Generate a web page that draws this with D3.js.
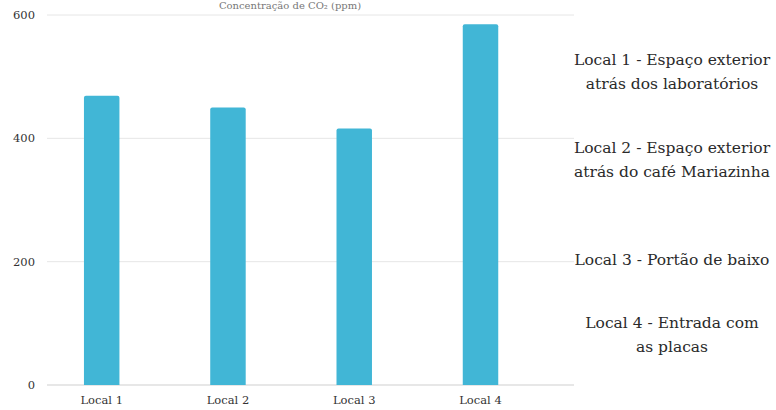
<!DOCTYPE html>
<html><head><meta charset="utf-8">
<script src="https://cdn.jsdelivr.net/npm/d3@7"></script>
<style>body{margin:0;background:#fff}svg{display:block}</style>
</head><body>
<script>
const categories = ["Local 1", "Local 2", "Local 3", "Local 4"];
const values = [469, 450, 416, 585];
const yTicks = [0, 200, 400, 600];
const title = "Concentração de CO₂ (ppm)";
const legendLines = [
  ["Local 1 - Espaço exterior", "atrás dos laboratórios"],
  ["Local 2 - Espaço exterior", "atrás do café Mariazinha"],
  ["Local 3 - Portão de baixo"],
  ["Local 4 - Entrada com", "as placas"]
];
const legendY = [60, 148, 260, 323];

const W = 776, H = 410;
const font = "'DejaVu Serif', 'Liberation Serif', serif";
const svg = d3.select("body").append("svg").attr("width", W).attr("height", H);

const y = d3.scaleLinear().domain([0, 600]).range([385, 15]);
const x = d3.scaleBand().domain(categories).range([38.5, 543.7]).paddingInner(0.719).paddingOuter(0.36);

// gridlines
svg.append("g").selectAll("line").data(yTicks).join("line")
  .attr("x1", 47).attr("x2", 574)
  .attr("y1", d => y(d)).attr("y2", d => y(d))
  .attr("stroke", d => d === 0 ? "#cfcfcf" : "#e6e6e6").attr("stroke-width", 1);

// y labels
svg.append("g").selectAll("text").data(yTicks).join("text")
  .attr("x", 35).attr("y", d => y(d)).attr("dy", "0.35em")
  .attr("text-anchor", "end").attr("font-family", font).attr("font-size", 11.5)
  .attr("fill", "#333").text(d => d);

// bars
svg.append("g").selectAll("path").data(values).join("path")
  .attr("d", (d, i) => {
    const x0 = x(categories[i]), w = x.bandwidth(), t = y(d), b = y(0), r = 2;
    return `M${x0},${b}V${t + r}Q${x0},${t} ${x0 + r},${t}H${x0 + w - r}Q${x0 + w},${t} ${x0 + w},${t + r}V${b}Z`;
  })
  .attr("fill", "#41b6d6");

// x labels
svg.append("g").selectAll("text").data(categories).join("text")
  .attr("x", d => x(d) + x.bandwidth() / 2).attr("y", 404)
  .attr("text-anchor", "middle").attr("font-family", font).attr("font-size", 11.5)
  .attr("fill", "#333").text(d => d);

// title
svg.append("text").attr("x", 290).attr("y", 9)
  .attr("text-anchor", "middle").attr("font-family", font).attr("font-size", 10)
  .attr("fill", "#777").text(title);

// legend text
legendLines.forEach((lines, i) => {
  lines.forEach((t, j) => {
    svg.append("text").attr("x", 672).attr("y", legendY[i] + j * 24).attr("dy", "0.35em")
      .attr("text-anchor", "middle").attr("font-family", font).attr("font-size", 15.5)
      .attr("fill", "#2a2a2a").text(t);
  });
});
</script>
</body></html>
